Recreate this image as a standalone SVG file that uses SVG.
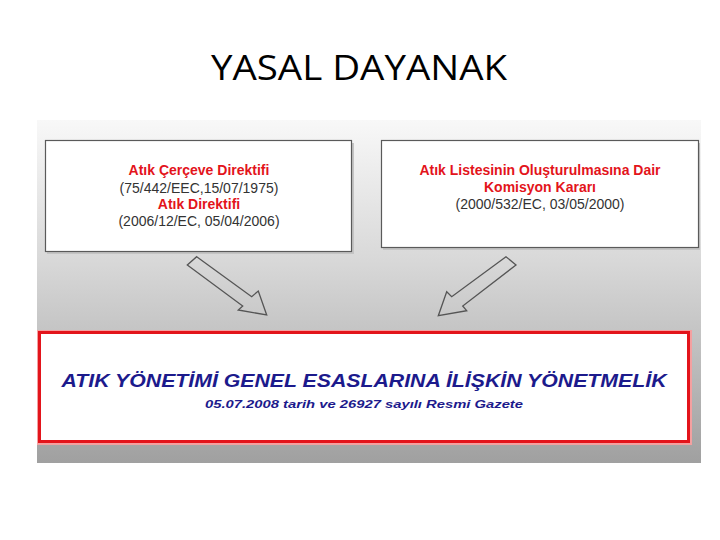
<svg xmlns="http://www.w3.org/2000/svg" width="720" height="540" viewBox="0 0 720 540">
<defs>
<linearGradient id="bg" x1="0" y1="0" x2="0" y2="1">
<stop offset="0" stop-color="#f8f8f8"/>
<stop offset="0.4" stop-color="#d9d9d9"/>
<stop offset="1" stop-color="#a0a0a0"/>
</linearGradient>
<style>
.box{fill:#ffffff;stroke:#5a5a5a;stroke-width:1.2}
.shadow{fill:#c4c4c4}
.red{font-family:"Liberation Sans",Arial,sans-serif;font-weight:bold;font-size:14px;fill:#e3141b;text-anchor:middle}
.blk{font-family:"Liberation Sans",Arial,sans-serif;font-size:14px;fill:#333333;text-anchor:middle}
.navy{font-family:"Liberation Sans",Arial,sans-serif;font-weight:bold;font-style:italic;fill:#1c1a8c;text-anchor:middle}
.arrow{fill:none;stroke:#555555;stroke-width:1.3;stroke-linejoin:miter}
</style>
</defs>
<rect width="720" height="540" fill="#ffffff"/>
<text x="359" y="80" font-family="'Open Sans','Noto Sans',sans-serif" font-size="34" fill="#000000" text-anchor="middle" textLength="296" lengthAdjust="spacingAndGlyphs">YASAL DAYANAK</text>
<rect x="37" y="120" width="664" height="343" fill="url(#bg)"/>
<g id="node-left">
<rect class="shadow" x="47" y="143" width="307" height="111"/>
<rect class="box" x="45.5" y="140.5" width="306" height="111"/>
<text class="red" x="199" y="175">Atık Çerçeve Direktifi</text>
<text class="blk" x="199" y="193">(75/442/EEC,15/07/1975)</text>
<text class="red" x="199" y="209">Atık Direktifi</text>
<text class="blk" x="199" y="226">(2006/12/EC, 05/04/2006)</text>
</g>
<g id="node-right">
<rect class="shadow" x="383" y="143" width="317" height="107"/>
<rect class="box" x="381.5" y="140.5" width="317" height="107"/>
<text class="red" x="540" y="175">Atık Listesinin Oluşturulmasına Dair</text>
<text class="red" x="540" y="192">Komisyon Kararı</text>
<text class="blk" x="540" y="209">(2000/532/EC, 03/05/2000)</text>
</g>
<g id="node-bottom">
<rect x="38" y="331" width="653" height="113" fill="none" stroke="#f4a0a0" stroke-width="2"/>
<rect x="39.5" y="332.5" width="649" height="109" fill="#ffffff" stroke="#e3141b" stroke-width="3"/>
<text class="navy" x="364" y="387" font-size="18" textLength="605" lengthAdjust="spacingAndGlyphs">ATIK YÖNETİMİ GENEL ESASLARINA İLİŞKİN YÖNETMELİK</text>
<text class="navy" x="364" y="408" font-size="11.5" textLength="318" lengthAdjust="spacingAndGlyphs">05.07.2008 tarih ve 26927 sayılı Resmi Gazete</text>
</g>
<g id="connectors">
<polygon class="arrow" points="196.7,256.7 251.7,296.7 258.3,291 266.7,315 238.3,310 242.7,306 187.3,265"/>
<polygon class="arrow" points="506,256.7 451.7,296.7 446.7,291.7 438.3,315.7 466.7,310.7 462.7,306 516,265"/>
</g>
</svg>
